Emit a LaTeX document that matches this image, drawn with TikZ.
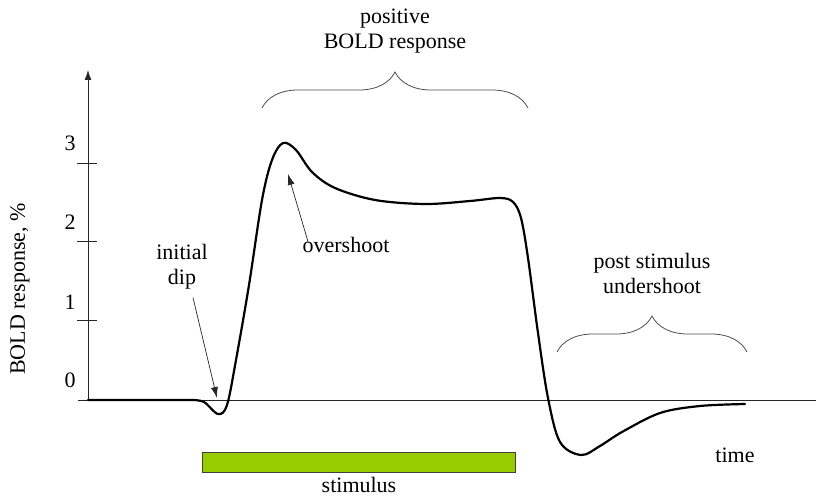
\documentclass[tikz,border=0pt]{standalone}
\usepackage{fontspec}
\setmainfont{Liberation Serif}
\usetikzlibrary{calc,arrows.meta,decorations.pathreplacing}

\definecolor{stimgreen}{HTML}{99CC00}

\tikzset{
  lbl/.style={font=\fontsize{22}{24}\selectfont,align=center,inner sep=0pt},
  axis/.style={line width=0.9pt,draw=black!85},
  signal/.style={line width=2.2pt,line join=round,line cap=round},
  pointer/.style={-{Latex[length=11pt,width=7pt]},line width=0.7pt,draw=black!85},
  bracket/.style={line width=0.8pt,draw=black!70,decorate,decoration={brace,amplitude=36pt,aspect=0.5}}
}

\begin{document}
\begin{tikzpicture}[x=1pt,y=-1pt]

            \useasboundingbox (0,0) rectangle (816,497);

            \coordinate (O) at (88,400);
            \coordinate (Ytop) at (88,70);
            \coordinate (Xend) at (816,400);

            \begin{scope}[axis]
                \draw[-{Latex[length=10pt,width=7pt]}] (O) -- (Ytop);
                \draw (O) -- (Xend);
                \draw (78,400) -- (O);
                \foreach \yy in {163,241,320}
                    \draw (77,\yy) -- (97,\yy);
            \end{scope}

            \node[lbl] (t0) at (70,380) {0};
            \node[lbl] (t1) at (70,302) {1};
            \node[lbl] (t2) at (70,222) {2};
            \node[lbl] (t3) at (70,143) {3};
            \node[lbl,rotate=90] (ylab) at (20,289) {BOLD response, \%};

            \draw[signal] (O) -- (192,400)
                plot[smooth,tension=0.55] coordinates {(192,400) (204,402) (218,414) (227,405) (236,360)
                    (249,285) (262,200) (272,160) (283,143) (296,150) (312,172) (335,188)
                    (375,200) (425,204) (470,201) (500,198) (513,202) (521,218) (528,258)
                    (538,333) (548,398) (560,442) (581,455) (600,446) (622,432) (660,413)
                    (700,406) (745,404)};

            \fill[stimgreen,draw=black!75,line width=0.8pt] (202,452) rectangle (515,472);
            \node[lbl] (stim) at (359,485) {stimulus};
            \node[lbl] (time) at (735,455) {time};

            \coordinate (B1) at (262,108);
            \coordinate (B2) at (528,108);
            \draw[bracket] (B1) -- (B2);
            \node[lbl] (pos) at (395,31) {positive\\[1pt]BOLD response};

            \coordinate (C1) at (557,352);
            \coordinate (C2) at (747,352);
            \draw[bracket] (C1) -- (C2);
            \node[lbl] (post) at (652,273) {post stimulus\\[1pt]undershoot};

            \node[lbl] (dip) at (182,267) {initial\\[1pt]dip};
            \coordinate (diptip) at (217,398);
            \draw[pointer] (dip.south) ++(11,8) -- (diptip);

            \node[lbl] (over) at (346,245) {overshoot};
            \coordinate (overtip) at (288,174);
            \draw[pointer] (over.west) ++(6,-2) -- (overtip);
        \end{tikzpicture}
\end{document}
